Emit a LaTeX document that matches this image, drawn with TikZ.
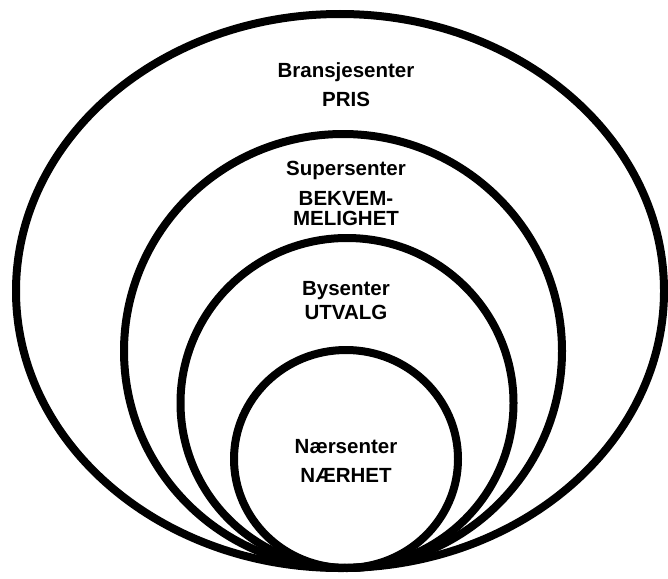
\documentclass[tikz,border=0pt]{standalone}
\usepackage{fontspec}
\setmainfont{Liberation Sans}
\usepackage{tikz}
\usetikzlibrary{shapes.geometric}
\tikzset{
  ring/.style={draw=black,line width=8pt,ellipse,inner sep=0pt},
  navn/.style={anchor=base,inner sep=0pt,font=\fontsize{20.5}{20}\selectfont\bfseries},
}

\begin{document}
\begin{tikzpicture}[x=1pt,y=-1pt]
\useasboundingbox (0,0) rectangle (668,578);
% senterringer, fra ytterst til innerst
\node[ring,minimum width=648pt,minimum height=554pt] (bransje) at (340,291) {};
\node[ring,minimum width=438pt,minimum height=434pt] (super) at (343,351) {};
\node[ring,minimum width=333pt,minimum height=330pt] (by) at (347,403) {};
\node[ring,minimum width=224pt,minimum height=218pt] (naer) at (346,459) {};
% tekster
\node[navn] (bransjeTekst) at (346,77) {Bransjesenter};
\node[navn] (bransjePris) at (346,106) {PRIS};
\node[navn] (superTekst) at (346,175) {Supersenter};
\node[navn] (superBekvem) at (346,205) {BEKVEM-};
\node[navn] (superMelighet) at (346,225) {MELIGHET};
\node[navn] (byTekst) at (346,295) {Bysenter};
\node[navn] (byUtvalg) at (346,319) {UTVALG};
\node[navn] (naerTekst) at (346,453) {Nærsenter};
\node[navn] (naerHet) at (346,482) {NÆRHET};
\end{tikzpicture}
\end{document}
